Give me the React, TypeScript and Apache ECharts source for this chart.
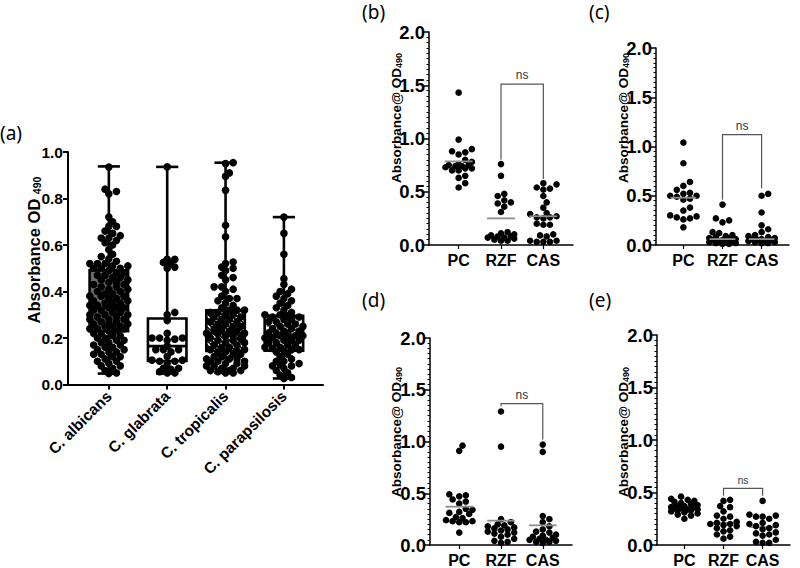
import React, { useEffect, useRef } from "react";
import * as echarts from "echarts";

// ---------- (a) biofilm absorbance by species ----------
const speciesNames = ["C. albicans", "C. glabrata", "C. tropicalis", "C. parapsilosis"];

const albicansOD = [
  0.935, 0.84, 0.83, 0.82, 0.72, 0.7, 0.68, 0.68, 0.66, 0.65, 0.64, 0.63, 0.63, 0.62, 0.61, 0.6, 0.58, 0.56, 0.55,
  0.54, 0.53, 0.52, 0.52, 0.52, 0.51, 0.51, 0.5, 0.5, 0.5, 0.49, 0.48, 0.48, 0.47, 0.47, 0.46, 0.46, 0.45, 0.45,
  0.44, 0.44, 0.43, 0.43, 0.42, 0.42, 0.41, 0.41, 0.4, 0.4, 0.39, 0.39, 0.38, 0.38, 0.38, 0.37, 0.37, 0.36, 0.36,
  0.35, 0.35, 0.35, 0.34, 0.34, 0.33, 0.33, 0.33, 0.32, 0.32, 0.31, 0.31, 0.3, 0.3, 0.3, 0.29, 0.29, 0.28, 0.28,
  0.28, 0.27, 0.27, 0.26, 0.26, 0.26, 0.25, 0.25, 0.25, 0.24, 0.24, 0.24, 0.23, 0.23, 0.22, 0.22, 0.21, 0.21, 0.2,
  0.2, 0.19, 0.19, 0.18, 0.18, 0.17, 0.17, 0.16, 0.16, 0.15, 0.15, 0.14, 0.14, 0.13, 0.13, 0.12, 0.12, 0.11, 0.1,
  0.1, 0.09, 0.08, 0.08, 0.07, 0.06, 0.05, 0.047,
];
const glabrataOD = [
  0.936, 0.538, 0.538, 0.525, 0.52, 0.505, 0.5, 0.31, 0.3, 0.275, 0.22, 0.2, 0.2, 0.2, 0.195, 0.19, 0.165, 0.15,
  0.15, 0.15, 0.14, 0.12, 0.105, 0.105, 0.1, 0.1, 0.09, 0.07, 0.07, 0.065, 0.055, 0.05, 0.05,
];
const tropicalisOD = [
  0.954, 0.95, 0.91, 0.895, 0.835, 0.685, 0.635, 0.527, 0.52, 0.505, 0.5, 0.49, 0.47, 0.46, 0.45, 0.42, 0.42, 0.41,
  0.4, 0.38, 0.37, 0.37, 0.36, 0.35, 0.34, 0.33, 0.32, 0.32, 0.32, 0.31, 0.31, 0.3, 0.3, 0.29, 0.29, 0.28, 0.28,
  0.27, 0.27, 0.26, 0.26, 0.25, 0.25, 0.24, 0.24, 0.23, 0.23, 0.22, 0.22, 0.22, 0.21, 0.21, 0.2, 0.2, 0.19, 0.19,
  0.18, 0.18, 0.17, 0.17, 0.16, 0.16, 0.15, 0.15, 0.145, 0.14, 0.14, 0.13, 0.13, 0.12, 0.12, 0.11, 0.11, 0.11, 0.1,
  0.1, 0.1, 0.09, 0.09, 0.08, 0.08, 0.08, 0.07, 0.07, 0.06, 0.06, 0.06, 0.055, 0.05, 0.05,
];
const parapsilosisOD = [
  0.72, 0.65, 0.56, 0.455, 0.43, 0.41, 0.4, 0.39, 0.38, 0.37, 0.36, 0.35, 0.34, 0.33, 0.32, 0.31, 0.3, 0.3, 0.295,
  0.29, 0.29, 0.28, 0.28, 0.27, 0.27, 0.26, 0.26, 0.25, 0.25, 0.24, 0.24, 0.23, 0.23, 0.22, 0.22, 0.22, 0.21, 0.21,
  0.21, 0.2, 0.2, 0.2, 0.19, 0.19, 0.19, 0.18, 0.18, 0.17, 0.17, 0.16, 0.16, 0.155, 0.15, 0.15, 0.145, 0.14, 0.13,
  0.12, 0.11, 0.1, 0.1, 0.09, 0.085, 0.08, 0.08, 0.07, 0.06, 0.05, 0.04, 0.03, 0.026,
];

// five-number summaries: min, Q1, median, Q3, max
const albicansBox = [0.047, 0.229, 0.33, 0.491, 0.938];
const glabrataBox = [0.047, 0.101, 0.165, 0.284, 0.936];
const tropicalisBox = [0.05, 0.144, 0.22, 0.319, 0.954];
const parapsilosisBox = [0.026, 0.145, 0.21, 0.295, 0.72];

// ---------- (b)-(e) treatment comparisons ----------
const treatments = ["PC", "RZF", "CAS"];

const bPC = [1.43, 0.99, 0.9, 0.88, 0.87, 0.85, 0.8, 0.78, 0.76, 0.75, 0.75, 0.74, 0.74, 0.73, 0.72, 0.72, 0.7, 0.7, 0.65, 0.63, 0.58, 0.54];
const bRZF = [0.76, 0.65, 0.48, 0.46, 0.42, 0.4, 0.39, 0.36, 0.31, 0.12, 0.11, 0.1, 0.09, 0.08, 0.08, 0.07, 0.07, 0.06, 0.05, 0.04, 0.04];
const bCAS = [0.58, 0.57, 0.54, 0.53, 0.52, 0.46, 0.4, 0.35, 0.3, 0.29, 0.27, 0.26, 0.26, 0.25, 0.2, 0.19, 0.19, 0.1, 0.09, 0.08, 0.04, 0.04, 0.03, 0.03, 0.03];
const bMeans = [0.785, 0.25, 0.27];
const bBracket = [1.51, 0.8, 0.62]; // top, left end, right end

const cPC = [1.04, 0.83, 0.64, 0.6, 0.56, 0.53, 0.52, 0.5, 0.5, 0.49, 0.47, 0.46, 0.38, 0.35, 0.3, 0.29, 0.28, 0.27, 0.26, 0.18];
const cRZF = [0.41, 0.27, 0.25, 0.23, 0.13, 0.12, 0.1, 0.09, 0.08, 0.07, 0.06, 0.06, 0.05, 0.05, 0.04, 0.04, 0.03, 0.03, 0.02, 0.02, 0.01, 0.01];
const cCAS = [0.52, 0.5, 0.33, 0.2, 0.16, 0.13, 0.1, 0.09, 0.08, 0.07, 0.06, 0.06, 0.05, 0.05, 0.04, 0.04, 0.03, 0.03, 0.02, 0.02];
const cMeans = [0.48, 0.06, 0.06];
const cBracket = [1.12, 0.46, 0.575];

const dPC = [0.96, 0.91, 0.49, 0.48, 0.47, 0.44, 0.42, 0.4, 0.35, 0.34, 0.32, 0.31, 0.3, 0.27, 0.26, 0.24, 0.23, 0.23, 0.22, 0.22, 0.12];
const dRZF = [1.29, 0.95, 0.25, 0.22, 0.2, 0.19, 0.18, 0.17, 0.16, 0.15, 0.14, 0.13, 0.12, 0.11, 0.1, 0.08, 0.06, 0.04, 0.03, 0.02];
const dCAS = [0.97, 0.9, 0.28, 0.25, 0.22, 0.18, 0.15, 0.13, 0.12, 0.1, 0.09, 0.08, 0.07, 0.06, 0.05, 0.05, 0.04, 0.03, 0.03, 0.02];
const dMeans = [0.37, 0.235, 0.19];
const dBracket = [1.365, 1.34, 1.02];

const ePC = [0.46, 0.44, 0.43, 0.42, 0.41, 0.4, 0.39, 0.38, 0.37, 0.37, 0.36, 0.36, 0.35, 0.35, 0.34, 0.34, 0.33, 0.33, 0.32, 0.31, 0.3, 0.29, 0.28, 0.25];
const eRZF = [0.43, 0.42, 0.37, 0.36, 0.32, 0.28, 0.27, 0.25, 0.22, 0.21, 0.2, 0.2, 0.19, 0.18, 0.16, 0.14, 0.13, 0.1, 0.08, 0.06];
const eCAS = [0.42, 0.29, 0.28, 0.27, 0.27, 0.25, 0.21, 0.2, 0.19, 0.18, 0.16, 0.15, 0.12, 0.11, 0.1, 0.09, 0.05, 0.03, 0.02, 0.02];
const eMeans = [0.35, 0.21, 0.17];
const eBracket = [0.54, 0.47, 0.47];

// ---------- layout & style ----------
const FONT = "Arial, 'Liberation Sans', Helvetica, sans-serif";
const LETTER_FONT = "'Noto Sans', 'DejaVu Sans', sans-serif";

const gridA = { left: 68, top: 152, width: 255, height: 232.5 };
const A_XMIN = 0.3;
const A_XMAX = 4.67;
const S_XMIN = 0.3;
const S_XMAX = 3.7;

type Grid = { left: number; top: number; width: number; height: number };
type Panel = {
  grid: Grid;
  groups: number[][];
  means: number[];
  bracket: number[];
  letter: string;
  letterPos: [number, number];
  titlePos: [number, number];
  nsSize: number;
  meanOnTop: boolean;
};

const panels: Panel[] = [
  { grid: { left: 429, top: 32, width: 144, height: 213 }, groups: [bPC, bRZF, bCAS], means: bMeans, bracket: bBracket, letter: "(b)", letterPos: [362, 12], titlePos: [395, 118], nsSize: 12, meanOnTop: true },
  { grid: { left: 656, top: 48, width: 133, height: 197 }, groups: [cPC, cRZF, cCAS], means: cMeans, bracket: cBracket, letter: "(c)", letterPos: [589, 12], titlePos: [622, 118], nsSize: 12, meanOnTop: true },
  { grid: { left: 430, top: 338, width: 142, height: 209 }, groups: [dPC, dRZF, dCAS], means: dMeans, bracket: dBracket, letter: "(d)", letterPos: [362, 300], titlePos: [395, 432], nsSize: 12, meanOnTop: true },
  { grid: { left: 657, top: 335, width: 133, height: 212 }, groups: [ePC, eRZF, eCAS], means: eMeans, bracket: eBracket, letter: "(e)", letterPos: [589, 300], titlePos: [622, 432], nsSize: 10, meanOnTop: false },
];

// Beeswarm placement: spreads overlapping dots sideways, returns [xOffsetInAxisUnits, value]
function swarm(values: number[], pxPerX: number, pxPerY: number, diam: number, maxHalf: number, gapRatio: number): number[][] {
  const sorted = [...values].sort((a, b) => a - b);
  const placed: { x: number; y: number }[] = [];
  const out: number[][] = [];
  const step = diam * 0.5;
  const minGap = diam * gapRatio;
  for (const v of sorted) {
    const y = v * pxPerY;
    let best = 0;
    let bestScore = -Infinity;
    for (let k = 0; k < 60; k++) {
      const cand = k === 0 ? 0 : (k % 2 ? 1 : -1) * Math.ceil(k / 2) * step;
      if (Math.abs(cand) > maxHalf) break;
      let minD = Infinity;
      for (const p of placed) {
        if (Math.abs(p.y - y) < diam) {
          const d = Math.hypot(p.x - cand, p.y - y);
          if (d < minD) minD = d;
        }
      }
      if (minD >= minGap) {
        best = cand;
        break;
      }
      if (minD > bestScore) {
        bestScore = minD;
        best = cand;
      }
    }
    placed.push({ x: best, y });
    out.push([best / pxPerX, v]);
  }
  return out;
}

function hatchLines(x: number, y: number, w: number, h: number, gap: number) {
  const lines: any[] = [];
  for (let c = -h; c <= w; c += gap) {
    const s = Math.max(0, -c);
    const e = Math.min(h, w - c);
    if (s < e) {
      lines.push({
        type: "line",
        shape: { x1: x + s + c, y1: y + s, x2: x + e + c, y2: y + e },
        style: { stroke: "#fff", lineWidth: 1.6 },
      });
    }
  }
  return lines;
}

function dashLines(x: number, y: number, w: number, h: number, gap: number) {
  const lines: any[] = [];
  for (let yy = y + gap / 2; yy < y + h; yy += gap) {
    lines.push({
      type: "line",
      shape: { x1: x + 2, y1: yy, x2: x + w - 2, y2: yy },
      style: { stroke: "#000", lineWidth: 1.2, lineDash: [4, 3] },
    });
  }
  return lines;
}

const boxFills = ["#6a6a6a", "#ffffff", "hatch", "dash"];

export default function App() {
  const ref = useRef<HTMLDivElement>(null);

  useEffect(() => {
    if (!ref.current) return;
    const chart = echarts.init(ref.current, null, { renderer: "svg" });

    const grids: any[] = [];
    const xAxes: any[] = [];
    const yAxes: any[] = [];
    const series: any[] = [];
    const graphics: any[] = [];

    // ----- panel (a) -----
    grids.push(gridA);
    xAxes.push({
      gridIndex: 0,
      type: "value",
      min: A_XMIN,
      max: A_XMAX,
      splitLine: { show: false },
      axisLine: { show: true, lineStyle: { color: "#000", width: 2 } },
      axisTick: { show: true, customValues: [1, 2, 3, 4], length: 5, lineStyle: { color: "#000", width: 2 } },
      axisLabel: {
        customValues: [1, 2, 3, 4],
        formatter: (v: number) => speciesNames[Math.round(v) - 1] ?? "",
        rotate: 45,
        margin: 9,
        color: "#000",
        fontFamily: FONT,
        fontWeight: "bold",
        fontSize: 15.5,
      },
    });
    yAxes.push({
      gridIndex: 0,
      type: "value",
      min: 0,
      max: 1,
      interval: 0.2,
      splitLine: { show: false },
      axisLine: { show: true, lineStyle: { color: "#000", width: 2 } },
      axisTick: { show: true, length: 5, lineStyle: { color: "#000", width: 2 } },
      axisLabel: {
        formatter: (v: number) => v.toFixed(1),
        color: "#000",
        fontFamily: FONT,
        fontWeight: "bold",
        fontSize: 15.5,
        margin: 5,
      },
    });

    const aPxX = gridA.width / (A_XMAX - A_XMIN);
    const aPxY = gridA.height;
    const boxes = [albicansBox, glabrataBox, tropicalisBox, parapsilosisBox];
    const speciesValues = [albicansOD, glabrataOD, tropicalisOD, parapsilosisOD];

    series.push({
      type: "custom",
      xAxisIndex: 0,
      yAxisIndex: 0,
      z: 1,
      silent: true,
      data: boxes.map((b, i) => [i + 1, ...b, i]),
      renderItem: (_p: any, api: any) => {
        const x = api.value(0);
        const mn = api.value(1), q1 = api.value(2), md = api.value(3), q3 = api.value(4), mx = api.value(5);
        const fillIdx = api.value(6);
        const boxHalf = 0.33;
        const capHalf = 0.19;
        const [cx, yMin] = api.coord([x, mn]);
        const yMax = api.coord([x, mx])[1];
        const yQ1 = api.coord([x, q1])[1];
        const yQ3 = api.coord([x, q3])[1];
        const yMd = api.coord([x, md])[1];
        const xl = api.coord([x - boxHalf, 0])[0];
        const xr = api.coord([x + boxHalf, 0])[0];
        const cl = api.coord([x - capHalf, 0])[0];
        const cr = api.coord([x + capHalf, 0])[0];
        const stroke = { stroke: "#000", lineWidth: 2.6 };
        const fill = boxFills[fillIdx];
        const w = xr - xl;
        const h = yQ1 - yQ3;
        const children: any[] = [
          { type: "line", shape: { x1: cx, y1: yMin, x2: cx, y2: yMax }, style: stroke },
          { type: "line", shape: { x1: cl, y1: yMin, x2: cr, y2: yMin }, style: stroke },
          { type: "line", shape: { x1: cl, y1: yMax, x2: cr, y2: yMax }, style: stroke },
        ];
        if (fill === "hatch") {
          children.push({ type: "rect", shape: { x: xl, y: yQ3, width: w, height: h }, style: { fill: "#111" } });
          children.push(...hatchLines(xl, yQ3, w, h, 4.5));
        } else if (fill === "dash") {
          children.push({ type: "rect", shape: { x: xl, y: yQ3, width: w, height: h }, style: { fill: "#fff" } });
          children.push(...dashLines(xl, yQ3, w, h, 4));
        } else {
          children.push({ type: "rect", shape: { x: xl, y: yQ3, width: w, height: h }, style: { fill } });
        }
        children.push({ type: "rect", shape: { x: xl, y: yQ3, width: w, height: h }, style: { fill: "none", ...stroke } });
        children.push({ type: "line", shape: { x1: xl, y1: yMd, x2: xr, y2: yMd }, style: stroke });
        return { type: "group", children };
      },
    });

    speciesValues.forEach((vals, i) => {
      series.push({
        type: "scatter",
        xAxisIndex: 0,
        yAxisIndex: 0,
        z: 2,
        silent: true,
        symbol: "circle",
        symbolSize: 7.6,
        itemStyle: { color: "#000", opacity: 1 },
        data: swarm(vals, aPxX, aPxY, 7.6, 19, 0.62).map(([dx, v]) => [i + 1 + dx, v]),
      });
    });

    graphics.push({
      type: "text",
      x: 0,
      y: 133,
      style: { text: "(a)", font: `normal 19px ${LETTER_FONT}`, fill: "#000", verticalAlign: "middle" },
    });
    graphics.push({
      type: "text",
      x: 33,
      y: 250,
      rotation: Math.PI / 2,
      style: {
        text: "{t|Absorbance OD }{s|490}",
        align: "center",
        verticalAlign: "middle",
        fill: "#000",
        rich: {
          t: { fontFamily: FONT, fontWeight: "bold", fontSize: 16.5, verticalAlign: "bottom", lineHeight: 19 },
          s: { fontFamily: FONT, fontWeight: "bold", fontSize: 10.5, verticalAlign: "bottom", lineHeight: 12 },
        },
      },
    });

    // ----- panels (b)-(e) -----
    panels.forEach((p, k) => {
      const gi = k + 1;
      grids.push(p.grid);
      xAxes.push({
        gridIndex: gi,
        type: "value",
        min: S_XMIN,
        max: S_XMAX,
        splitLine: { show: false },
        axisLine: { show: true, lineStyle: { color: "#000", width: 1.5 } },
        axisTick: { show: true, customValues: [1, 2, 3], length: 4, lineStyle: { color: "#000", width: 1.2 } },
        axisLabel: {
          customValues: [1, 2, 3],
          formatter: (v: number) => treatments[Math.round(v) - 1] ?? "",
          margin: 7,
          color: "#000",
          fontFamily: FONT,
          fontWeight: "bold",
          fontSize: 16,
        },
      });
      yAxes.push({
        gridIndex: gi,
        type: "value",
        min: 0,
        max: 2,
        interval: 0.5,
        splitLine: { show: false },
        axisLine: { show: true, lineStyle: { color: "#000", width: 1.5 } },
        axisTick: { show: true, length: 5, lineStyle: { color: "#000", width: 1.5 } },
        minorTick: { show: true, splitNumber: 10, length: 2.5, lineStyle: { color: "#000", width: 1 } },
        axisLabel: {
          formatter: (v: number) => v.toFixed(1),
          color: "#000",
          fontFamily: FONT,
          fontWeight: "bold",
          fontSize: 18.5,
          margin: 4,
        },
      });

      const pxX = p.grid.width / (S_XMAX - S_XMIN);
      const pxY = p.grid.height / 2;
      p.groups.forEach((vals, i) => {
        series.push({
          type: "scatter",
          xAxisIndex: gi,
          yAxisIndex: gi,
          z: 2,
          silent: true,
          symbol: "circle",
          symbolSize: 6.6,
          itemStyle: { color: "#000", opacity: 1 },
          data: swarm(vals, pxX, pxY, 6.6, 15, 0.85).map(([dx, v]) => [i + 1 + dx, v]),
        });
      });

      // mean lines
      series.push({
        type: "custom",
        xAxisIndex: gi,
        yAxisIndex: gi,
        z: p.meanOnTop ? 3 : 1,
        silent: true,
        data: p.means.map((m, i) => [i + 1, m]),
        renderItem: (_q: any, api: any) => {
          const x = api.value(0);
          const v = api.value(1);
          const a = api.coord([x - 0.33, v]);
          const b = api.coord([x + 0.33, v]);
          return { type: "line", shape: { x1: a[0], y1: a[1], x2: b[0], y2: b[1] }, style: { stroke: "#8f8f8f", lineWidth: 1.8 } };
        },
      });

      // significance bracket between RZF and CAS
      series.push({
        type: "custom",
        xAxisIndex: gi,
        yAxisIndex: gi,
        z: 3,
        silent: true,
        clip: false,
        data: [[2, 3, ...p.bracket]],
        renderItem: (_q: any, api: any) => {
          const x1 = api.value(0), x2 = api.value(1);
          const top = api.value(2), le = api.value(3), re = api.value(4);
          const pA = api.coord([x1, le]);
          const pB = api.coord([x1, top]);
          const pC = api.coord([x2, top]);
          const pD = api.coord([x2, re]);
          return {
            type: "group",
            children: [
              {
                type: "polyline",
                shape: { points: [pA, pB, pC, pD] },
                style: { stroke: "#555", lineWidth: 1.2, fill: "none" },
              },
              {
                type: "text",
                x: (pB[0] + pC[0]) / 2,
                y: pB[1] - 3,
                style: {
                  text: "ns",
                  fill: "#333",
                  font: `normal ${p.nsSize}px ${FONT}`,
                  align: "center",
                  verticalAlign: "bottom",
                },
              },
            ],
          };
        },
      });

      graphics.push({
        type: "text",
        x: p.letterPos[0],
        y: p.letterPos[1],
        style: { text: p.letter, font: `normal 19px ${LETTER_FONT}`, fill: "#000", verticalAlign: "middle" },
      });
      graphics.push({
        type: "text",
        x: p.titlePos[0],
        y: p.titlePos[1],
        rotation: Math.PI / 2,
        style: {
          text: "{t|Absorbance@ OD}{s|490}",
          align: "center",
          verticalAlign: "middle",
          fill: "#000",
          rich: {
            t: { fontFamily: FONT, fontWeight: "bold", fontSize: 13.5, verticalAlign: "bottom", lineHeight: 16 },
            s: { fontFamily: FONT, fontWeight: "bold", fontSize: 9, verticalAlign: "bottom", lineHeight: 10 },
          },
        },
      });
    });

    chart.setOption({
      animation: false,
      backgroundColor: "#fff",
      textStyle: { fontFamily: FONT },
      grid: grids.map((g) => ({ ...g, containLabel: false })),
      xAxis: xAxes,
      yAxis: yAxes,
      series,
      graphic: graphics,
    });

    return () => chart.dispose();
  }, []);

  return <div ref={ref} style={{ position: "absolute", left: 0, top: 0, width: 800, height: 568 }} />;
}
